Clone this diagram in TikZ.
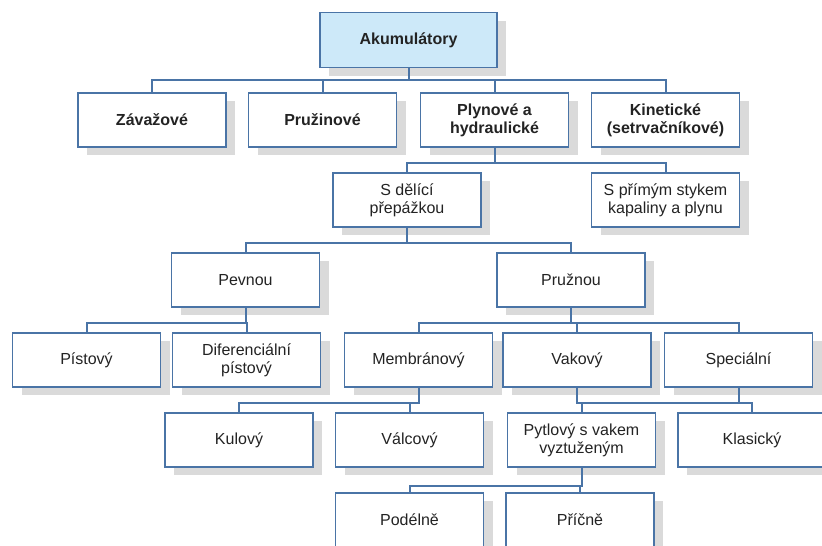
\documentclass[tikz,border=0pt]{standalone}
\usepackage{fontspec}
\setmainfont{Liberation Sans}
\usetikzlibrary{shadows}
\definecolor{boxblue}{RGB}{74,116,166}
\definecolor{topfill}{RGB}{205,233,249}
\definecolor{shadowgray}{RGB}{218,218,218}
\definecolor{textgray}{RGB}{35,35,35}
\tikzset{
	box/.style={draw=boxblue, line width=1.8pt, fill=white, text=textgray,
		minimum width=148pt, minimum height=54pt, inner sep=0pt, align=center,
		font=\fontsize{16}{18}\selectfont,
		drop shadow={shadow xshift=9pt, shadow yshift=-8pt, fill=shadowgray, opacity=1}},
	topbox/.style={box, font=\fontsize{16}{18}\selectfont\bfseries},
	conn/.style={draw=boxblue, line width=2pt}
}
\begin{document}
\begin{tikzpicture}[x=1pt, y=-1pt]
	\useasboundingbox (0,0) rectangle (822,546);
	% boxes
	\node[topbox, fill=topfill, minimum width=177pt, minimum height=55pt] (akum) at (408.5,40) {Akumulátory};
	\node[topbox] (zav) at (152,120) {Závažové};
	\node[topbox] (pruz) at (322.5,120) {Pružinové};
	\node[topbox] (plyn) at (494.5,120) {Plynové a\\hydraulické};
	\node[topbox] (kin) at (665.5,120) {Kinetické\\(setrvačníkové)};
	\node[box] (sdel) at (407,200) {S dělící\\přepážkou};
	\node[box] (sprim) at (665.5,200) {S přímým stykem\\kapaliny a plynu};
	\node[box] (pev) at (245.5,280) {Pevnou};
	\node[box] (pruzn) at (571,280) {Pružnou};
	\node[box] (pis) at (86.5,360) {Pístový};
	\node[box] (dif) at (246.5,360) {Diferenciální\\pístový};
	\node[box] (mem) at (418.5,360) {Membránový};
	\node[box] (vak) at (577,360) {Vakový};
	\node[box] (spec) at (738.5,360) {Speciální};
	\node[box] (kul) at (239,440) {Kulový};
	\node[box] (val) at (409.5,440) {Válcový};
	\node[box] (pyt) at (581.5,440) {Pytlový s vakem\\vyztuženým};
	\node[box] (kla) at (752,440) {Klasický};
	\node[box] (pod) at (409.5,520) {Podélně};
	\node[box] (pri) at (580,520) {Příčně};
	% connectors
	\foreach \c in {zav,pruz,plyn,kin}
		\draw[conn] (akum.south) -- ++(0,12) -| (\c.north);
	\foreach \c in {sdel,sprim}
		\draw[conn] (plyn.south) -- ++(0,15) -| (\c.north);
	\foreach \c in {pev,pruzn}
		\draw[conn] (sdel.south) -- ++(0,15) -| (\c.north);
	\foreach \c in {pis,dif}
		\draw[conn] (pev.south) -- ++(0,15) -| (\c.north);
	\foreach \c in {mem,vak,spec}
		\draw[conn] (pruzn.south) -- ++(0,15) -| (\c.north);
	\foreach \c in {kul,val}
		\draw[conn] (mem.south) -- ++(0,15) -| (\c.north);
	\path (vak.south) ++(0,15) coordinate (vakbus);
	\foreach \c in {pyt,kla}
		\draw[conn] (vak.south) -- (vakbus) -| (\c.north);
	\draw[conn] (spec.south) -- (spec.south |- vakbus);
	\foreach \c in {pod,pri}
		\draw[conn] (pyt.south) -- ++(0,18) -| (\c.north);
\end{tikzpicture}
\end{document}
